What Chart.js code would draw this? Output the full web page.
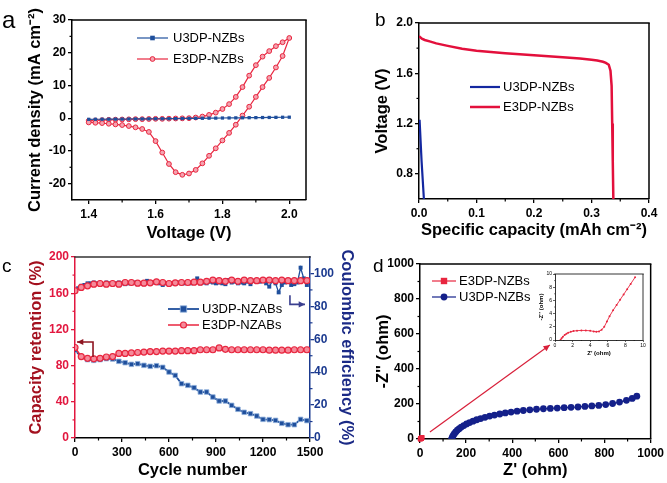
<!DOCTYPE html>
<html><head><meta charset="utf-8">
<script src="https://cdn.jsdelivr.net/npm/chart.js@4/dist/chart.umd.min.js"></script>
<style>
body{margin:0;background:#fff;}
#wrap{position:relative;width:667px;height:483px;overflow:hidden;background:#fff;font-family:"Liberation Sans",Arial,sans-serif;}
canvas{position:absolute;}
.lbl{position:absolute;color:#000;line-height:1;font-family:"Liberation Sans",Arial,sans-serif;}
</style></head><body>
<div id="wrap">
<canvas id="ca" width="333" height="244" style="left:0;top:0"></canvas>
<canvas id="cb" width="334" height="244" style="left:333px;top:0"></canvas>
<canvas id="cc" width="360" height="243" style="left:0;top:240px"></canvas>
<canvas id="cd" width="307" height="243" style="left:360px;top:240px"></canvas>
<canvas id="ci" width="124" height="100" style="left:528px;top:266px"></canvas>
<div class="lbl" style="left:2px;top:8px;font-size:24px">a</div>
<div class="lbl" style="left:375px;top:10px;font-size:19px">b</div>
<div class="lbl" style="left:2px;top:256px;font-size:19px">c</div>
<div class="lbl" style="left:373px;top:256px;font-size:19px">d</div>
</div>
<script>
// ---------------- DATA ----------------
// (a) cyclic voltammetry
const A_X_TICKS=[1.4,1.6,1.8,2.0];
const A_Y_TICKS=[-20,-10,0,10,20,30];
const A_U3DP_V=[1.40,1.42,1.44,1.46,1.48,1.50,1.52,1.54,1.56,1.58,1.60,1.62,1.64,1.66,1.68,1.70,1.72,1.74,1.76,1.78,1.80,1.82,1.84,1.86,1.88,1.90,1.92,1.94,1.96,1.98,2.00];
const A_U3DP_I=[-0.35,-0.33,-0.32,-0.30,-0.28,-0.27,-0.25,-0.24,-0.22,-0.20,-0.18,-0.17,-0.15,-0.13,-0.10,-0.08,-0.05,-0.03,0.00,0.02,0.05,0.07,0.10,0.12,0.15,0.17,0.20,0.22,0.25,0.28,0.30];
const A_E3DP_V=[1.40,1.42,1.44,1.46,1.48,1.50,1.52,1.54,1.56,1.58,1.60,1.62,1.64,1.66,1.68,1.70,1.72,1.74,1.76,1.78,1.80,1.82,1.84,1.86,1.88,1.90,1.92,1.94,1.96,1.98,2.00,
 1.98,1.96,1.94,1.92,1.90,1.88,1.86,1.84,1.82,1.80,1.78,1.76,1.74,1.72,1.70,1.68,1.66,1.64,1.62,1.60,1.58,1.56,1.54,1.52,1.50,1.48,1.46,1.44,1.42,1.40];
const A_E3DP_I=[-0.8,-0.7,-0.6,-0.5,-0.45,-0.4,-0.35,-0.3,-0.3,-0.25,-0.2,-0.2,-0.15,-0.1,-0.05,0.0,0.2,0.5,1.0,1.7,2.8,4.3,6.5,9.5,13.0,16.2,18.8,20.5,22.0,23.2,24.5,
 19.0,15.5,12.3,9.5,6.5,3.5,0.8,-2.0,-4.5,-6.8,-9.2,-11.5,-13.8,-15.8,-16.9,-17.3,-16.5,-14.0,-10.5,-7.0,-4.2,-3.3,-2.8,-2.4,-2.1,-1.9,-1.7,-1.5,-1.4,-1.3];

// (b) discharge curves
const B_X_TICKS=[0.0,0.1,0.2,0.3,0.4];
const B_Y_TICKS=[0.8,1.2,1.6,2.0];
const B_U3DP_Q=[0.001,0.0045,0.0085];
const B_U3DP_V=[1.23,0.9,0.6];
const B_E3DP_Q=[0,0.005,0.01,0.02,0.03,0.05,0.075,0.1,0.15,0.2,0.25,0.28,0.3,0.31,0.32,0.325,0.33,0.333,0.335,0.336,0.337,0.338];
const B_E3DP_V=[1.895,1.875,1.865,1.852,1.838,1.818,1.795,1.78,1.76,1.743,1.727,1.717,1.708,1.702,1.692,1.683,1.668,1.62,1.5,1.2,0.9,0.6];

// (c) cycling
const C_X_TICKS=[0,300,600,900,1200,1500];
const C_YL_TICKS=[0,40,80,120,160,200];
const C_YR_TICKS=[0,20,40,60,80,100];
const C_CYCLE=[0,40,80,120,160,200,240,280,320,360,400,440,480,520,560,600,640,680,720,760,800,840,880,920,960,1000,1040,1080,1120,1160,1200,1240,1280,1320,1360,1400,1440,1480];
const C_U3DP_RET=[97,89.5,86.6,85.8,86.6,87.7,87.3,84.7,83.2,81.4,82.1,80.3,79.2,79.9,78.1,72.9,69.2,60.0,58.2,55.6,50.8,50.8,45.3,40.9,40.9,36.1,31.7,28.4,26.9,24.3,20.6,20.3,19.5,16.2,14.7,14.7,20.6,19.2];
const C_E3DP_RET=[100,90,88,87.5,88,89.5,90,93.5,93.5,94,94.5,95,95.5,95.5,96,96,96,96.5,96.5,96.5,97.5,97.5,97.5,99.5,98,97.5,97.5,97.5,97.5,97.5,97.5,97,97,97,97,97.5,97.5,97.5];
const C_E3DP_CE=[89.5,91.5,92.5,93.5,93.9,93.5,93.9,93.5,94.5,94.5,94.1,94.1,94.3,94.9,94.5,93.9,94.3,94.5,94.5,94.7,94.7,95.2,96,95.6,95.2,96,95.2,96,95.6,95.6,96,96,95.6,96,95.6,95.6,95.6,95.6];
const C_CE_CYCLE=[0,20,40,60,80,100,120,140,160,180,200,220,240,260,280,300,320,340,360,380,400,420,440,460,480,500,520,540,560,580,600,620,640,660,680,700,720,740,760,780,800,820,840,860,880,900,920,940,960,980,1000,1020,1040,1060,1080,1100,1120,1140,1160,1180,1200,1220,1240,1260,1280,1300,1320,1340,1360,1380,1400,1420,1440,1460,1480];
const C_U3DP_CE=[89.5,91,92.5,93,94,94,94.5,94,94,93.5,
 94.5,94,93.5,94,94.5,94,93.5,94,94,94.5,
 93.5,94,93.5,95.5,94,94.5,95,94,93,94,
 93.5,94,94,94.5,94,94,94.5,94,94.5,97,
 94,94.5,94,95,94.5,94,94.5,94,93.5,96,
 94.5,95,94,94.5,94,95,93.5,95.5,95,95,
 96.5,94,92,95.5,94,88.5,93,94.5,96,93,
 93.5,94.5,103.5,97,93];

// (d) impedance
const D_TICKS=[0,200,400,600,800,1000];
const D_INSET_TICKS=[0,2,4,6,8,10];
const D_E3DP_ZRE=[0.64,0.75,0.9,1.1,1.3,1.5,1.8,2.1,2.5,3.0,3.5,4.0,4.4,4.7,5.0,5.3,5.6,5.9,6.2,6.6,7.0,7.4,7.8,8.2,8.6,9.1];
const D_E3DP_ZIM=[0.05,0.25,0.5,0.75,0.95,1.1,1.25,1.35,1.42,1.45,1.44,1.4,1.3,1.25,1.3,1.55,2.0,2.8,3.6,4.5,5.3,6.1,6.9,7.7,8.5,9.5];
const D_U3DP_ZRE=[137,140,144,149,155,162,170,179,190,202,215,230,246,263,282,302,323,346,370,395,421,448,476,505,535,565,595,625,655,685,715,745,775,805,835,865,895,920,940];
const D_U3DP_ZIM=[0,10,20,30,40,50,59,68,77,86,94,102,110,117,124,131,137,143,149,154,159,163,167,170,173,175,177,179,181,183,186,189,192,197,203,211,221,232,245];

// ---------------- HELPERS ----------------
const FONT='"Liberation Sans", Arial, sans-serif';
Chart.defaults.font.family=FONT;
const pts=(xs,ys)=>xs.map((x,i)=>({x:x,y:ys[i]}));
function mids(t,min,max){const step=t[1]-t[0];const out=[];
  for(let i=-1;i<t.length;i++){const v=t[0]+(i+0.5)*step; if(v>min+1e-9&&v<max-1e-9) out.push(v);} return out;}
function axis(o){
  return {type:'linear',position:o.pos,min:o.min,max:o.max,
    afterBuildTicks:s=>{s.ticks=o.ticks.map(v=>({value:v}));},
    afterFit:s=>{if(o.w!=null)s.width=o.w; if(o.h!=null)s.height=o.h;},
    grid:{display:true,drawOnChartArea:false,drawTicks:true,tickLength:o.tl||4,color:o.color||'#000',lineWidth:o.gw||1.3},
    border:{display:true,color:o.color||'#000',width:o.bw||1.5},
    ticks:{color:o.tcolor||o.color||'#000',font:{family:FONT,size:o.fs||12,weight:o.fw||'bold'},padding:o.pad!=null?o.pad:3,
      maxRotation:0,autoSkip:false,callback:o.fmt||(v=>String(v))},
    title:{display:true,text:o.title,color:o.titleColor||'#000',font:{family:FONT,size:o.tfs||16.5,weight:'bold'},
      padding:{top:o.tp||0,bottom:o.tb||0}}
  };
}
function marker(ctx,style,x,y,r,fill,stroke,bw){
  ctx.save();ctx.fillStyle=fill;ctx.strokeStyle=stroke;ctx.lineWidth=bw||1;ctx.beginPath();
  if(style==='rect'){ctx.rect(x-r,y-r,2*r,2*r);} else {ctx.arc(x,y,r,0,Math.PI*2);}
  ctx.fill(); if(bw>0) ctx.stroke(); ctx.restore();
}
function decor(cfg){
  return {id:'decor',afterDraw(chart){
    const ctx=chart.ctx, ca=chart.chartArea;
    ctx.save();
    (cfg.frame||[]).forEach(f=>{ctx.strokeStyle=f.color;ctx.lineWidth=f.w||1.5;ctx.beginPath();
      if(f.side==='top'){ctx.moveTo(ca.left-0.75,ca.top);ctx.lineTo(ca.right+0.75,ca.top);}
      if(f.side==='right'){ctx.moveTo(ca.right,ca.top);ctx.lineTo(ca.right,ca.bottom);}
      ctx.stroke();});
    (cfg.minor||[]).forEach(m=>{const s=chart.scales[m.axis];ctx.strokeStyle=m.color||'#000';ctx.lineWidth=m.w||1.2;
      m.values.forEach(v=>{const p=s.getPixelForValue(v);ctx.beginPath();
        if(s.position==='bottom'){ctx.moveTo(p,ca.bottom);ctx.lineTo(p,ca.bottom+m.len);}
        else if(s.position==='left'){ctx.moveTo(ca.left,p);ctx.lineTo(ca.left-m.len,p);}
        else {ctx.moveTo(ca.right,p);ctx.lineTo(ca.right+m.len,p);}
        ctx.stroke();});});
    (cfg.arrows||[]).forEach(a=>{const xs=chart.scales[a.x],ys=chart.scales[a.y];
      const P=a.pts.map(p=>[xs.getPixelForValue(p[0]),ys.getPixelForValue(p[1])]);
      ctx.strokeStyle=a.color;ctx.fillStyle=a.color;ctx.lineWidth=a.w;ctx.beginPath();
      P.forEach((p,i)=>i?ctx.lineTo(p[0],p[1]):ctx.moveTo(p[0],p[1]));ctx.stroke();
      const n=P.length,x1=P[n-2][0],y1=P[n-2][1],x2=P[n-1][0],y2=P[n-1][1];
      const ang=Math.atan2(y2-y1,x2-x1),h=a.head;
      ctx.beginPath();ctx.moveTo(x2,y2);
      ctx.lineTo(x2-h*Math.cos(ang-0.45),y2-h*Math.sin(ang-0.45));
      ctx.lineTo(x2-h*Math.cos(ang+0.45),y2-h*Math.sin(ang+0.45));ctx.closePath();ctx.fill();});
    if(cfg.legend){const L=cfg.legend;ctx.font=L.font;ctx.textBaseline='middle';ctx.textAlign='left';
      L.items.forEach((di,k)=>{const ds=chart.data.datasets[di];const y=L.y+k*L.dy;
        ctx.strokeStyle=ds.borderColor;ctx.lineWidth=ds.borderWidth;ctx.beginPath();ctx.moveTo(L.x,y);ctx.lineTo(L.x+L.len,y);ctx.stroke();
        if(ds.pointRadius>0) marker(ctx,ds.pointStyle,L.x+L.len/2,y,ds.pointRadius*(L.ms||1),ds.pointBackgroundColor,ds.pointBorderColor,ds.pointBorderWidth);
        ctx.fillStyle='#000';ctx.fillText(ds.label,L.x+L.len+L.gap,y);});}
    ctx.restore();
  }};
}
function make(id,datasets,scales,padding,cfg){
  return new Chart(document.getElementById(id),{type:'scatter',data:{datasets},
    options:{responsive:false,animation:false,events:[],layout:{padding},
      plugins:{legend:{display:false},tooltip:{enabled:false}},scales},
    plugins:[decor(cfg)]});
}
const RED='#e8263f', BLUE='#1f4f9c', NAVY='#14208a';

// ---------------- (a) ----------------
make('ca',[
  {label:'U3DP-NZBs',data:pts(A_U3DP_V,A_U3DP_I),showLine:true,borderColor:BLUE,borderWidth:1.2,
   pointStyle:'rect',pointRadius:2.3,pointBackgroundColor:BLUE,pointBorderColor:BLUE,pointBorderWidth:0,order:1},
  {label:'E3DP-NZBs',data:pts(A_E3DP_V,A_E3DP_I),showLine:true,borderColor:RED,borderWidth:1.2,
   pointStyle:'circle',pointRadius:2.4,pointBackgroundColor:'#f4a3b0',pointBorderColor:RED,pointBorderWidth:1,order:2}
],{
  x:axis({pos:'bottom',min:1.35,max:2.05,ticks:A_X_TICKS,h:44,fmt:v=>v.toFixed(1),title:'Voltage (V)',tb:1}),
  y:axis({pos:'left',min:-25,max:30,ticks:A_Y_TICKS,w:72,title:'Current density (mA cm\u207B\u00B2)',tp:26,pad:2})
},{left:0,top:20,right:27,bottom:0},{
  frame:[{side:'top',color:'#000'},{side:'right',color:'#000'}],
  minor:[{axis:'x',values:mids(A_X_TICKS,1.35,2.05),len:2.5},{axis:'y',values:mids(A_Y_TICKS,-25,30),len:2.5}],
  legend:{x:137,y:38,dy:21,len:31,gap:5,font:'13px '+FONT,items:[0,1]}
});

// ---------------- (b) ----------------
make('cb',[
  {label:'U3DP-NZBs',data:pts(B_U3DP_Q,B_U3DP_V),showLine:true,borderColor:'#1428a0',borderWidth:2.2,pointRadius:0,order:1},
  {label:'E3DP-NZBs',data:pts(B_E3DP_Q,B_E3DP_V),showLine:true,borderColor:'#e3103c',borderWidth:2.5,pointRadius:0,order:2}
],{
  x:axis({pos:'bottom',min:0,max:0.4,ticks:B_X_TICKS,h:45,fmt:v=>v.toFixed(1),title:'Specific capacity (mAh cm\u207B\u00B2)',tb:4}),
  y:axis({pos:'left',min:0.6,max:2.0,ticks:B_Y_TICKS,w:86,fmt:v=>v.toFixed(1),title:'Voltage (V)',tp:40,pad:2})
},{left:0,top:23,right:18,bottom:0},{
  frame:[{side:'top',color:'#000'},{side:'right',color:'#000'}],
  minor:[{axis:'x',values:mids(B_X_TICKS,0,0.4),len:2.5},{axis:'y',values:mids(B_Y_TICKS,0.6,2.0),len:2.5}],
  legend:{x:137,y:87,dy:20,len:30,gap:3,font:'13px '+FONT,items:[0,1]}
});

// ---------------- (c) ----------------
const CRED='#e2173f', CNAVY='#1b3a8f';
make('cc',[
  {label:'U3DP-NZABs',data:pts(C_CYCLE,C_U3DP_RET),yAxisID:'y',showLine:true,borderColor:BLUE,borderWidth:1.8,
   pointStyle:'rect',pointRadius:3.2,pointBackgroundColor:BLUE,pointBorderColor:'#8fb0dc',pointBorderWidth:0.8,order:3},
  {label:'E3DP-NZABs',data:pts(C_CYCLE,C_E3DP_RET),yAxisID:'y',showLine:true,borderColor:RED,borderWidth:1.5,
   pointStyle:'circle',pointRadius:3,pointBackgroundColor:'#f58a9a',pointBorderColor:RED,pointBorderWidth:1.2,order:1},
  {label:'U3DP CE',data:pts(C_CE_CYCLE,C_U3DP_CE),yAxisID:'y1',showLine:true,borderColor:BLUE,borderWidth:1.3,
   pointStyle:'rect',pointRadius:2.8,pointBackgroundColor:BLUE,pointBorderColor:BLUE,pointBorderWidth:0,order:4},
  {label:'E3DP CE',data:pts(C_CYCLE,C_E3DP_CE),yAxisID:'y1',showLine:true,borderColor:RED,borderWidth:1.2,
   pointStyle:'circle',pointRadius:3,pointBackgroundColor:'#f58a9a',pointBorderColor:RED,pointBorderWidth:1.2,order:2}
],{
  x:axis({pos:'bottom',min:0,max:1500,ticks:C_X_TICKS,h:45,title:'Cycle number',tb:3}),
  y:axis({pos:'left',min:0,max:200,ticks:C_YL_TICKS,w:75,color:CRED,title:'Capacity retention (%)',titleColor:'#a3101e',tp:27,pad:2}),
  y1:axis({pos:'right',min:0,max:110,ticks:C_YR_TICKS,w:50,color:CNAVY,title:'Coulombic efficiency (%)',titleColor:'#1b2a86',tp:4,pad:0})
},{left:0,top:17,right:0,bottom:0},{
  frame:[{side:'top',color:'#333'}],
  minor:[{axis:'x',values:mids(C_X_TICKS,0,1500),len:2.5},{axis:'y',values:mids(C_YL_TICKS,0,200),len:2.5,color:CRED},
         {axis:'y1',values:mids(C_YR_TICKS,0,110),len:2.5,color:CNAVY}],
  arrows:[{x:'x',y:'y',pts:[[115,89.5],[115,106],[13,106]],color:'#8e1420',w:1.6,head:7},
          {x:'x',y:'y1',pts:[[1372,86.7],[1372,81.2],[1468,81.2]],color:'#3a3f8f',w:1.6,head:7}],
  legend:{x:168,y:69,dy:16,len:31,gap:3,font:'13px '+FONT,items:[0,1]}
});

// ---------------- (d) ----------------
make('cd',[
  {label:'E3DP-NZBs',data:pts(D_E3DP_ZRE,D_E3DP_ZIM),showLine:true,borderColor:RED,borderWidth:1.2,clip:false,
   pointStyle:'rect',pointRadius:3.2,pointBackgroundColor:RED,pointBorderColor:RED,pointBorderWidth:0,order:1},
  {label:'U3DP-NZBs',data:pts(D_U3DP_ZRE,D_U3DP_ZIM),showLine:true,borderColor:NAVY,borderWidth:1.2,
   pointStyle:'circle',pointRadius:3.4,pointBackgroundColor:NAVY,pointBorderColor:NAVY,pointBorderWidth:0,order:2}
],{
  x:axis({pos:'bottom',min:0,max:1000,ticks:D_TICKS,h:44,title:"Z' (ohm)",tb:3}),
  y:axis({pos:'left',min:0,max:1000,ticks:D_TICKS,w:60,title:"-Z'' (ohm)",tp:14,pad:2})
},{left:0,top:24,right:16,bottom:0},{
  frame:[{side:'top',color:'#000'},{side:'right',color:'#000'}],
  minor:[{axis:'x',values:mids(D_TICKS,0,1000),len:2.5},{axis:'y',values:mids(D_TICKS,0,1000),len:2.5}],
  arrows:[{x:'x',y:'y',pts:[[43,40],[563,537]],color:'#d8203a',w:1.2,head:7}],
  legend:{x:72,y:41,dy:16,len:24,gap:3,font:'13px '+FONT,items:[0,1],ms:1}
});

// ---------------- (d) inset ----------------
make('ci',[
  {label:'E3DP-NZBs',data:pts(D_E3DP_ZRE,D_E3DP_ZIM),showLine:true,borderColor:RED,borderWidth:0.9,
   pointStyle:'circle',pointRadius:1,pointBackgroundColor:RED,pointBorderColor:RED,pointBorderWidth:0}
],{
  x:axis({pos:'bottom',min:0,max:10,ticks:D_INSET_TICKS,h:26,title:"Z' (ohm)",tb:9,fs:5,fw:'normal',tfs:6,tl:2,gw:0.6,bw:0.8,pad:1}),
  y:axis({pos:'left',min:0,max:10,ticks:D_INSET_TICKS,w:27,title:"-Z'' (ohm)",tp:10,fs:5,fw:'normal',tfs:6,tl:2,gw:0.6,bw:0.8,pad:1})
},{left:0,top:8,right:9,bottom:0},{
  frame:[{side:'top',color:'#000',w:0.8},{side:'right',color:'#000',w:0.8}],
  minor:[{axis:'x',values:mids(D_INSET_TICKS,0,10),len:1,w:0.5},{axis:'y',values:mids(D_INSET_TICKS,0,10),len:1,w:0.5}]
});
</script>
</body></html>
